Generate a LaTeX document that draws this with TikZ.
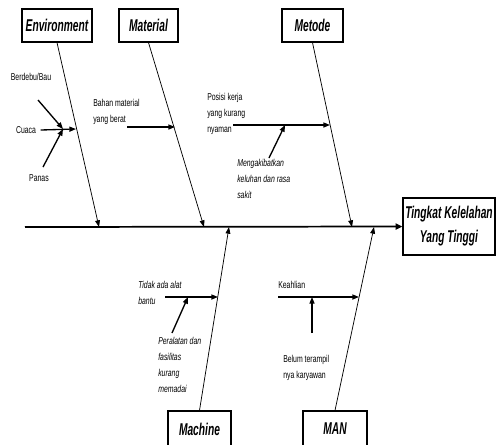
\documentclass[tikz,border=0pt]{standalone}
\usepackage{fontspec}
\setmainfont{Liberation Sans}[FakeStretch=0.69]
\newfontfamily\fbheadfont{Liberation Sans}[FakeStretch=0.6]
\usetikzlibrary{arrows.meta}
\definecolor{fbInk}{HTML}{000000}
\tikzset{
  every picture/.style={font=\fontsize{7.5}{12}\selectfont, text=fbInk},
  fb head/.style={draw=fbInk, line width=0.9pt, fill=white, align=center,
    font=\fbheadfont\fontsize{12.8}{18}\selectfont\bfseries\itshape, inner sep=0pt},
  fb text/.style={inner sep=0pt, align=left, anchor=north west},
  fb note/.style={fb text, font=\fontsize{7.5}{12}\selectfont\itshape},
  fb spine/.style={-{Triangle[length=5pt,width=4.5pt]}, draw=fbInk, line width=1.3pt},
  fb bone/.style={-{Triangle[length=5pt,width=3.6pt]}, draw=fbInk, line width=0.55pt},
  fb cause/.style={-{Triangle[length=5pt,width=3.8pt]}, draw=fbInk, line width=1pt}
}

\begin{document}
\begin{tikzpicture}[x=0.75pt,y=-0.75pt]
  \useasboundingbox (0,0) rectangle (496,444);
  % heads
  \node[fb head, minimum width=52.5pt, minimum height=24.75pt] (env) at (57,25.5) {Environment};
  \node[fb head, minimum width=44.25pt, minimum height=24.75pt] (mat) at (148.5,25.5) {Material};
  \node[fb head, minimum width=45.75pt, minimum height=24.75pt] (met) at (312.5,25.5) {Metode};
  \node[fb head, minimum width=47.25pt, minimum height=27pt] (mach) at (199.5,429) {Machine};
  \node[fb head, minimum width=48pt, minimum height=27pt] (man) at (335,429) {MAN};
  \node[fb head, minimum width=69pt, minimum height=42.75pt] (effect) at (449,226.5) {Tingkat Kelelahan\\Yang Tinggi};
  % spine and bones
  \coordinate (tail) at (25,227);
  \coordinate (env tip) at (99,227);
  \coordinate (mat tip) at (204,227);
  \coordinate (met tip) at (352,227);
  \coordinate (mach tip) at (229,227);
  \coordinate (man tip) at (374,227);
  \draw[fb spine] (tail) -- (effect.west);
  \draw[fb bone] (env.south) -- (env tip);
  \draw[fb bone] (mat.south) -- (mat tip);
  \draw[fb bone] (met.south) -- (met tip);
  \draw[fb bone] (mach.north) -- (mach tip);
  \draw[fb bone] (man.north) -- (man tip);
  % environment
  \node (berdebu) at (31,77) {Berdebu/Bau};
  \node (cuaca) at (26,130) {Cuaca};
  \node (panas) at (39,178) {Panas};
  \coordinate (berdebu start) at (38,100);
  \coordinate (panas start) at (43,167);
  \coordinate (env join) at (63,129);
  \coordinate (env hit) at (76,129);
  \draw[fb cause] (cuaca.east) -- (env hit);
  \draw[fb cause] (berdebu start) -- (env join);
  \draw[fb cause] (panas start) -- (env join);
  % material
  \node[fb text] (bahan) at (93,99) {Bahan material\\yang berat};
  \coordinate (bahan start) at (127,127);
  \coordinate (mat hit) at (175,127);
  \draw[fb cause] (bahan start) -- (mat hit);
  % metode
  \node[fb text] (posisi) at (207,93) {Posisi kerja\\yang kurang\\nyaman};
  \node[fb note] (keluhan) at (237,159) {Mengakibatkan\\keluhan dan rasa\\sakit};
  \coordinate (posisi start) at (233,125);
  \coordinate (posisi join) at (285,125);
  \coordinate (keluhan start) at (269,158);
  \coordinate (met hit) at (330,125);
  \draw[fb cause] (posisi start) -- (met hit);
  \draw[fb cause] (keluhan start) -- (posisi join);
  % machine
  \node[fb note] (alat) at (138,281) {Tidak ada alat\\bantu};
  \node[fb note] (fasilitas) at (158,337) {Peralatan dan\\fasilitas\\kurang\\memadai};
  \coordinate (alat start) at (165,297);
  \coordinate (alat join) at (188,297);
  \coordinate (fasilitas start) at (172,333);
  \coordinate (mach hit) at (218,297);
  \draw[fb cause] (alat start) -- (mach hit);
  \draw[fb cause] (fasilitas start) -- (alat join);
  % man
  \node[fb text] (keahlian) at (278,281) {Keahlian};
  \node[fb text] (terampil) at (283,355) {Belum terampil\\nya karyawan};
  \coordinate (keahlian start) at (278,297);
  \coordinate (keahlian join) at (312,297);
  \coordinate (terampil start) at (312,333);
  \coordinate (man hit) at (359,297);
  \draw[fb cause] (keahlian start) -- (man hit);
  \draw[fb cause] (terampil start) -- (keahlian join);
\end{tikzpicture}
\end{document}
